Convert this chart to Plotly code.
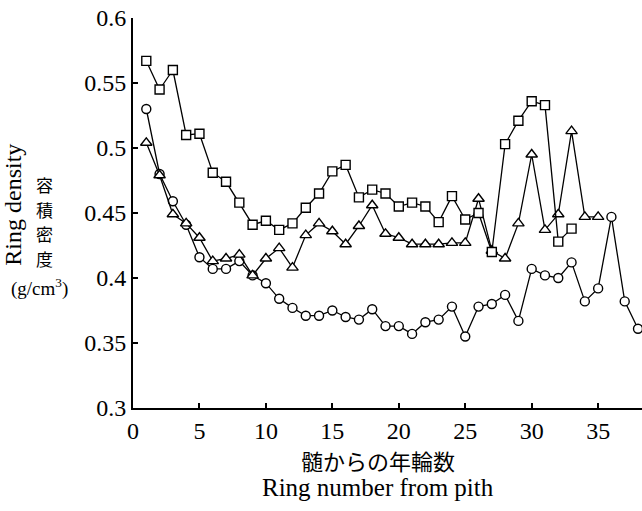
import plotly.graph_objects as go

# Ring number from pith
rings_sq = list(range(1, 34))
rings_tri = list(range(1, 36))
rings_circ = list(range(1, 39))

density_sq = [0.567, 0.545, 0.560, 0.510, 0.511, 0.481, 0.474, 0.458, 0.441, 0.444,
              0.437, 0.442, 0.454, 0.465, 0.482, 0.487, 0.462, 0.468, 0.465, 0.455,
              0.458, 0.455, 0.443, 0.463, 0.445, 0.450, 0.420, 0.503, 0.521, 0.536,
              0.533, 0.428, 0.438]
density_tri = [0.504, 0.479, 0.449, 0.442, 0.431, 0.413, 0.415, 0.418, 0.402, 0.415,
               0.423, 0.408, 0.433, 0.442, 0.436, 0.426, 0.440, 0.456, 0.434, 0.431,
               0.426, 0.426, 0.426, 0.427, 0.427, 0.461, 0.421, 0.415, 0.442, 0.495,
               0.437, 0.449, 0.513, 0.447, 0.447]
density_circ = [0.530, 0.480, 0.459, 0.441, 0.416, 0.407, 0.407, 0.413, 0.402, 0.396,
                0.384, 0.377, 0.371, 0.371, 0.375, 0.370, 0.368, 0.376, 0.363, 0.363,
                0.357, 0.366, 0.368, 0.378, 0.355, 0.378, 0.380, 0.387, 0.367, 0.407,
                0.402, 0.400, 0.412, 0.382, 0.392, 0.447, 0.382, 0.361]

x_ticks = [0, 5, 10, 15, 20, 25, 30, 35]
y_ticks = [0.3, 0.35, 0.4, 0.45, 0.5, 0.55, 0.6]
y_tick_text = ["0.3", "0.35", "0.4", "0.45", "0.5", "0.55", "0.6"]

fig = go.Figure()

def add_series(x, y, symbol, size):
    fig.add_trace(go.Scatter(
        x=x, y=y, mode="lines+markers",
        line=dict(color="black", width=1.3),
        marker=dict(symbol=symbol, size=size, color="white",
                    line=dict(color="black", width=1.4)),
        showlegend=False,
    ))

add_series(rings_circ, density_circ, "circle", 9)
add_series(rings_tri, density_tri, "triangle-up", 10)
add_series(rings_sq, density_sq, "square", 9)

serif = "Liberation Serif"
cjk = "Noto Sans CJK JP"

fig.update_layout(
    width=642, height=511,
    margin=dict(l=133, r=0, t=18, b=103),
    paper_bgcolor="white", plot_bgcolor="white",
    font=dict(family=serif, color="black", size=24),
    xaxis=dict(range=[0, 38.3], tickvals=x_ticks, ticks="inside", ticklen=5,
               tickwidth=1.5, tickcolor="black", showline=True, linecolor="black",
               linewidth=2, showgrid=False, zeroline=False,
               tickfont=dict(family=serif, size=24, color="black")),
    yaxis=dict(range=[0.3, 0.6], tickvals=y_ticks, ticktext=y_tick_text,
               ticks="inside", ticklen=5, tickwidth=1.5, tickcolor="black",
               showline=True, linecolor="black", linewidth=2, showgrid=False,
               zeroline=False,
               tickfont=dict(family=serif, size=24, color="black")),
)

ann = []
ann.append(dict(text="髄からの年輪数", x=0.481, y=-0.134, font=dict(family=cjk, size=22)))
ann.append(dict(text="Ring number from pith", x=0.481, y=-0.203, font=dict(family=serif, size=25)))
ann.append(dict(text="Ring density", x=-0.236, y=0.521, textangle=-90, font=dict(family=serif, size=24)))
for ch, yy in zip("容積密度", [0.5718, 0.509, 0.4462, 0.3833]):
    ann.append(dict(text=ch, x=-0.174, y=yy, font=dict(family=cjk, size=17)))
ann.append(dict(text="(g/cm<sup>3</sup>)", x=-0.183, y=0.31, font=dict(family=serif, size=19)))
for a in ann:
    a.update(xref="paper", yref="paper", showarrow=False, xanchor="center", yanchor="middle")
    fig.add_annotation(**a)

fig.write_html("out.html")
